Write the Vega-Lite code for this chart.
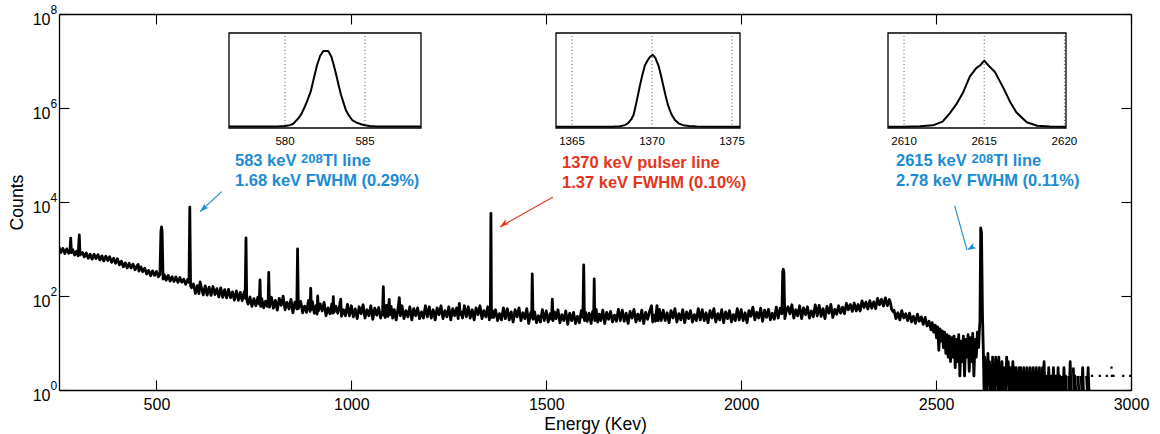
{
"$schema":"https://vega.github.io/schema/vega-lite/v6.json",
"width":1072,"height":376,
"autosize":{"type":"none"},
"padding":{"left":59,"top":14,"right":29,"bottom":44},
"background":"white",
"config":{"view":{"stroke":null},"font":"Liberation Sans",
 "axis":{"domainColor":"black","domainWidth":1.3,"tickColor":"black","tickWidth":1.1,"labelColor":"black","titleColor":"black","labelFont":"Liberation Sans","titleFont":"Liberation Sans","grid":false,"titleFontWeight":"normal"}},
"datasets":{
"spec":[
{"e":250,"c":1103},{"e":255,"c":845},{"e":260,"c":1025},{"e":265,"c":800},{"e":270,"c":1008},{"e":275,"c":814},{"e":278,"c":850},{"e":280,"c":1700},{"e":282,"c":840},{"e":285,"c":972},{"e":290,"c":744},{"e":295,"c":899},{"e":299,"c":720},{"e":302,"c":1990},{"e":304,"c":746},{"e":310,"c":846},{"e":315,"c":681},{"e":320,"c":825},{"e":325,"c":634},{"e":330,"c":774},{"e":335,"c":609},{"e":340,"c":773},{"e":345,"c":626},{"e":350,"c":759},{"e":355,"c":586},{"e":360,"c":714},{"e":365,"c":559},{"e":370,"c":706},{"e":375,"c":569},{"e":380,"c":684},{"e":385,"c":522},{"e":390,"c":634},{"e":395,"c":496},{"e":400,"c":622},{"e":405,"c":460},{"e":410,"c":551},{"e":415,"c":419},{"e":420,"c":507},{"e":425,"c":396},{"e":430,"c":498},{"e":435,"c":397},{"e":440,"c":475},{"e":445,"c":361},{"e":450,"c":436},{"e":453,"c":470},{"e":455,"c":339},{"e":460,"c":417},{"e":465,"c":329},{"e":470,"c":391},{"e":475,"c":294},{"e":480,"c":351},{"e":485,"c":271},{"e":490,"c":342},{"e":495,"c":275},{"e":500,"c":332},{"e":505,"c":255},{"e":509,"c":290},{"e":511.5,"c":2400},{"e":513,"c":2950},{"e":514.5,"c":2300},{"e":517,"c":230},{"e":520,"c":282},{"e":525,"c":217},{"e":530,"c":275},{"e":535,"c":208},{"e":540,"c":256},{"e":545,"c":203},{"e":550,"c":255},{"e":555,"c":195},{"e":560,"c":247},{"e":565,"c":197},{"e":570,"c":228},{"e":575,"c":177},{"e":580,"c":224},{"e":583.5,"c":195},{"e":585.5,"c":7800},{"e":587.5,"c":165},{"e":590,"c":150},
{"e":595,"c":181},{"e":600,"c":113},{"e":605,"c":166},{"e":609,"c":112},{"e":612,"c":200},{"e":615,"c":155},{"e":620,"c":105},{"e":625,"c":164},{"e":630,"c":104},{"e":635,"c":154},{"e":640,"c":103},{"e":645,"c":159},{"e":650,"c":107},{"e":655,"c":143},{"e":660,"c":96},{"e":665,"c":149},{"e":670,"c":93},{"e":675,"c":137},{"e":680,"c":91},{"e":685,"c":138},{"e":690,"c":92},{"e":695,"c":122},{"e":700,"c":82},{"e":705,"c":128},{"e":710,"c":81},{"e":715,"c":119},{"e":720,"c":80},{"e":725,"c":123},{"e":727.5,"c":90},{"e":729.7,"c":1714},{"e":731.5,"c":85},{"e":735,"c":67},{"e":740,"c":95},{"e":745,"c":60},{"e":750,"c":88},{"e":755,"c":62},{"e":760,"c":94},{"e":763.5,"c":67},{"e":765.6,"c":219},{"e":767.5,"c":60},{"e":770,"c":88},{"e":775,"c":56},{"e":780,"c":78},{"e":784,"c":60},{"e":786.5,"c":66},{"e":788,"c":319},{"e":790,"c":58},
{"e":795,"c":94},{"e":800,"c":55},{"e":805,"c":81},{"e":810,"c":50},{"e":815,"c":89},{"e":820,"c":63},{"e":825,"c":99},{"e":830,"c":51},{"e":835,"c":73},{"e":840,"c":53},{"e":845,"c":85},{"e":850,"c":44},{"e":855,"c":74},{"e":860,"c":53},{"e":862,"c":1000},{"e":864,"c":54},{"e":870,"c":77},{"e":875,"c":44},{"e":880,"c":61},{"e":885,"c":45},{"e":890,"c":81},{"e":894,"c":47},{"e":895.7,"c":146},{"e":897.5,"c":52},{"e":900,"c":76},{"e":905,"c":43},{"e":910,"c":63},{"e":912,"c":41},{"e":913.6,"c":100},{"e":915.5,"c":48},{"e":920,"c":68},{"e":925,"c":48},{"e":930,"c":73},{"e":935,"c":38},{"e":940,"c":56},{"e":945,"c":42},{"e":950,"c":68},{"e":952,"c":43},{"e":953.7,"c":97},{"e":955.5,"c":45},{"e":960,"c":61},{"e":965,"c":43},{"e":970,"c":64},{"e":972.7,"c":86},{"e":974.5,"c":37},{"e":980,"c":51},{"e":985,"c":38},{"e":990,"c":66},{"e":995,"c":38},
{"e":1000,"c":62},{"e":1005,"c":36},{"e":1010,"c":53},{"e":1015,"c":33},{"e":1020,"c":59},{"e":1025,"c":42},{"e":1030,"c":65},{"e":1035,"c":34},{"e":1040,"c":51},{"e":1045,"c":38},{"e":1050,"c":62},{"e":1055,"c":32},{"e":1060,"c":55},{"e":1065,"c":39},{"e":1070,"c":57},{"e":1075,"c":34},{"e":1080,"c":47},{"e":1082,"c":158},{"e":1084,"c":40},{"e":1087,"c":35},{"e":1090,"c":63},{"e":1094,"c":37},{"e":1097,"c":85},{"e":1099,"c":40},{"e":1102,"c":60},{"e":1106,"c":34},{"e":1110,"c":51},{"e":1115,"c":31},{"e":1120,"c":56},{"e":1123,"c":92},{"e":1125.5,"c":38},{"e":1130,"c":62},{"e":1135,"c":33},{"e":1140,"c":49},{"e":1145,"c":36},{"e":1150,"c":59},{"e":1155,"c":31},{"e":1160,"c":54},{"e":1165,"c":38},{"e":1170,"c":56},{"e":1175,"c":33},{"e":1180,"c":46},{"e":1185,"c":34},{"e":1190,"c":62},{"e":1195,"c":36},{"e":1200,"c":59},{"e":1205,"c":34},{"e":1210,"c":51},{"e":1215,"c":31},{"e":1220,"c":56},{"e":1225,"c":40},{"e":1230,"c":62},{"e":1235,"c":33},{"e":1240,"c":49},{"e":1245,"c":36},{"e":1250,"c":59},{"e":1255,"c":31},{"e":1260,"c":54},{"e":1265,"c":38},{"e":1270,"c":56},{"e":1274,"c":33},{"e":1277,"c":70},{"e":1279,"c":40},{"e":1282,"c":46},{"e":1285,"c":34},{"e":1290,"c":62},{"e":1295,"c":36},{"e":1300,"c":59},{"e":1305,"c":34},{"e":1310,"c":51},{"e":1315,"c":31},{"e":1320,"c":56},{"e":1325,"c":40},{"e":1330,"c":62},{"e":1335,"c":33},{"e":1340,"c":49},{"e":1345,"c":36},{"e":1350,"c":59},{"e":1354,"c":31},{"e":1356.5,"c":45},{"e":1358,"c":5750},{"e":1359.5,"c":35},{"e":1362,"c":49},{"e":1365,"c":35},{"e":1370,"c":51},{"e":1375,"c":30},{"e":1380,"c":42},{"e":1385,"c":31},{"e":1390,"c":56},{"e":1395,"c":33},{"e":1400,"c":54},{"e":1405,"c":31},{"e":1410,"c":46},{"e":1415,"c":28},{"e":1420,"c":51},{"e":1425,"c":36},{"e":1430,"c":56},{"e":1435,"c":30},{"e":1440,"c":44},{"e":1445,"c":33},{"e":1450,"c":54},{"e":1455,"c":26},{"e":1460,"c":44},{"e":1462.5,"c":35},{"e":1464,"c":294},{"e":1466,"c":32},{"e":1470,"c":46},{"e":1475,"c":27},{"e":1480,"c":38},{"e":1485,"c":28},{"e":1490,"c":51},{"e":1495,"c":30},{"e":1500,"c":48},{"e":1505,"c":28},{"e":1510,"c":42},{"e":1513.5,"c":32},{"e":1515.5,"c":86},{"e":1517.5,"c":30},{"e":1521,"c":46},{"e":1525,"c":33},{"e":1530,"c":51},{"e":1535,"c":27},{"e":1540,"c":40},{"e":1545,"c":30},{"e":1550,"c":48},{"e":1555,"c":25},{"e":1560,"c":43},{"e":1565,"c":30},{"e":1570,"c":45},{"e":1575,"c":26},{"e":1580,"c":37},{"e":1585,"c":27},{"e":1590,"c":49},{"e":1594,"c":35},{"e":1596,"c":457},{"e":1598,"c":30},{"e":1601,"c":45},{"e":1605,"c":29},{"e":1610,"c":43},{"e":1615,"c":26},{"e":1619,"c":47},{"e":1621.5,"c":34},{"e":1623,"c":230},{"e":1624.5,"c":30},{"e":1628,"c":52},{"e":1632,"c":28},{"e":1636,"c":41},{"e":1640,"c":30},{"e":1645,"c":50},{"e":1650,"c":26},{"e":1655,"c":45},{"e":1660,"c":32},{"e":1665,"c":47},{"e":1670,"c":28},{"e":1675,"c":39},{"e":1680,"c":29},{"e":1685,"c":52},{"e":1690,"c":30},{"e":1695,"c":50},{"e":1700,"c":29},{"e":1705,"c":43},{"e":1710,"c":26},{"e":1715,"c":47},{"e":1720,"c":34},{"e":1725,"c":52},{"e":1730,"c":28},{"e":1735,"c":41},{"e":1740,"c":30},{"e":1745,"c":50},{"e":1750,"c":26},{"e":1755,"c":45},{"e":1760,"c":32},{"e":1765,"c":47},{"e":1770,"c":62},{"e":1773,"c":28},{"e":1776,"c":39},{"e":1780,"c":29},{"e":1784,"c":62},{"e":1787,"c":30},{"e":1790,"c":52},{"e":1795,"c":30},{"e":1800,"c":50},{"e":1805,"c":30},{"e":1810,"c":44},{"e":1815,"c":27},{"e":1820,"c":49},{"e":1825,"c":34},{"e":1830,"c":54},{"e":1835,"c":28},{"e":1840,"c":42},{"e":1845,"c":31},{"e":1850,"c":51},{"e":1855,"c":27},{"e":1860,"c":46},{"e":1865,"c":33},{"e":1870,"c":49},{"e":1875,"c":28},{"e":1880,"c":40},{"e":1885,"c":30},{"e":1890,"c":54},{"e":1895,"c":31},{"e":1900,"c":51},{"e":1905,"c":30},{"e":1910,"c":44},{"e":1915,"c":27},{"e":1920,"c":49},{"e":1925,"c":34},{"e":1930,"c":54},{"e":1935,"c":28},{"e":1940,"c":42},{"e":1945,"c":31},{"e":1950,"c":51},{"e":1955,"c":27},{"e":1960,"c":46},{"e":1965,"c":33},{"e":1970,"c":49},{"e":1975,"c":28},{"e":1980,"c":40},{"e":1985,"c":30},{"e":1990,"c":54},{"e":1995,"c":31},{"e":2000,"c":51},{"e":2005,"c":30},{"e":2010,"c":44},{"e":2015,"c":27},{"e":2020,"c":49},{"e":2025,"c":37},{"e":2030,"c":58},{"e":2035,"c":31},{"e":2040,"c":45},{"e":2045,"c":34},{"e":2050,"c":55},{"e":2055,"c":29},{"e":2060,"c":50},{"e":2065,"c":35},{"e":2070,"c":52},{"e":2075,"c":31},{"e":2080,"c":43},{"e":2085,"c":32},{"e":2090,"c":58},{"e":2095,"c":34},{"e":2100,"c":55},{"e":2104.5,"c":42},{"e":2106.5,"c":330},{"e":2108,"c":370},{"e":2109.5,"c":330},{"e":2112,"c":33},{"e":2115,"c":45},{"e":2120,"c":59},{"e":2125,"c":42},{"e":2130,"c":65},{"e":2135,"c":34},{"e":2140,"c":51},{"e":2145,"c":38},{"e":2150,"c":62},{"e":2155,"c":33},{"e":2160,"c":56},{"e":2165,"c":40},{"e":2170,"c":59},{"e":2175,"c":34},{"e":2180,"c":48},{"e":2185,"c":36},{"e":2190,"c":65},{"e":2195,"c":38},{"e":2200,"c":63},{"e":2205,"c":37},{"e":2210,"c":54},{"e":2215,"c":33},{"e":2220,"c":60},{"e":2225,"c":43},{"e":2230,"c":66},{"e":2235,"c":35},{"e":2240,"c":52},
{"e":2245,"c":41},{"e":2250,"c":62},{"e":2255,"c":43},{"e":2260,"c":58},{"e":2265,"c":42},{"e":2270,"c":70},{"e":2275,"c":51},{"e":2280,"c":66},{"e":2285,"c":47},{"e":2290,"c":71},{"e":2295,"c":48},{"e":2300,"c":66},{"e":2305,"c":48},{"e":2310,"c":79},{"e":2315,"c":57},{"e":2320,"c":74},{"e":2325,"c":53},{"e":2330,"c":80},{"e":2335,"c":55},{"e":2340,"c":75},{"e":2345,"c":54},{"e":2350,"c":89},{"e":2355,"c":65},{"e":2360,"c":85},{"e":2365,"c":61},{"e":2370,"c":91},{"e":2375,"c":62},{"e":2380,"c":84},{"e":2383,"c":72},{"e":2386,"c":52},{"e":2389,"c":47},
{"e":2392,"c":50},{"e":2397,"c":33},{"e":2402,"c":44},{"e":2407,"c":31},{"e":2412,"c":49},{"e":2417,"c":34},{"e":2422,"c":42},{"e":2427,"c":30},{"e":2432,"c":43},{"e":2437,"c":28},{"e":2442,"c":37},{"e":2447,"c":26},{"e":2452,"c":41},{"e":2457,"c":29},{"e":2462,"c":36},{"e":2467,"c":25},{"e":2472,"c":35},{"e":2477,"c":23},{"e":2482,"c":29},{"e":2487,"c":19},
{"e":2490,"c":27},{"e":2494,"c":17},{"e":2498,"c":24},{"e":2501,"c":13},{"e":2504,"c":22},{"e":2507,"c":7},{"e":2510,"c":20},{"e":2513,"c":11},{"e":2516,"c":18},{"e":2519,"c":8},{"e":2522,"c":17},{"e":2525,"c":6},{"e":2528,"c":15},{"e":2531,"c":5},{"e":2534,"c":14},{"e":2537,"c":4},{"e":2540,"c":13},{"e":2543,"c":5},{"e":2546,"c":14},{"e":2549,"c":3},{"e":2552,"c":12},{"e":2555,"c":4},{"e":2558,"c":15},{"e":2561,"c":2},{"e":2564,"c":11},{"e":2567,"c":4},{"e":2570,"c":14},{"e":2573,"c":2},{"e":2576,"c":12},{"e":2579,"c":5},{"e":2582,"c":15},{"e":2585,"c":2.5},{"e":2588,"c":13},{"e":2591,"c":4},{"e":2594,"c":16},{"e":2597,"c":2},{"e":2600,"c":12},{"e":2603,"c":5},{"e":2606,"c":17},{"e":2609,"c":8},{"e":2611,"c":18},{"e":2612.5,"c":30},{"e":2614.5,"c":2800},{"e":2616.5,"c":2200},{"e":2619,"c":40},{"e":2621,"c":8},
{"e":2623,"c":1},{"e":2625,"c":5},{"e":2627,"c":1},{"e":2629,"c":4},{"e":2631,"c":1},{"e":2633,"c":6},{"e":2635,"c":2},{"e":2637,"c":4},{"e":2639,"c":1},{"e":2641,"c":3},{"e":2643,"c":1},{"e":2645,"c":5},{"e":2647,"c":1},{"e":2649,"c":3},{"e":2651,"c":1},{"e":2653,"c":5},{"e":2655,"c":2},{"e":2657,"c":4},{"e":2659,"c":1},{"e":2661,"c":5},{"e":2663,"c":1},{"e":2665,"c":3},{"e":2667,"c":1},{"e":2669,"c":4},{"e":2671,"c":1},{"e":2673,"c":3},{"e":2675,"c":1},{"e":2677,"c":3},{"e":2679,"c":1},{"e":2681,"c":5},{"e":2683,"c":2},{"e":2685,"c":4},{"e":2687,"c":1},{"e":2689,"c":3},{"e":2691,"c":1},{"e":2693,"c":3},{"e":2695,"c":1},{"e":2697,"c":4},{"e":2699,"c":1},{"e":2701,"c":3},{"e":2703,"c":1},{"e":2705,"c":3},{"e":2707,"c":1},{"e":2709,"c":2},{"e":2711,"c":1},{"e":2713,"c":3},{"e":2715,"c":1},{"e":2717,"c":3},{"e":2719,"c":1},{"e":2721,"c":2},{"e":2723,"c":1},{"e":2725,"c":3},{"e":2727,"c":1},{"e":2729,"c":2},{"e":2731,"c":1},{"e":2733,"c":3},{"e":2735,"c":1},{"e":2737,"c":2},{"e":2739,"c":1},{"e":2741,"c":3},{"e":2743,"c":1},{"e":2745,"c":2},{"e":2747,"c":1},{"e":2749,"c":3},{"e":2751,"c":1},{"e":2753,"c":2},{"e":2755,"c":1},{"e":2757,"c":3},{"e":2759,"c":1},{"e":2761,"c":2},{"e":2763,"c":1},{"e":2765,"c":3},{"e":2767,"c":1},{"e":2769,"c":2},{"e":2771,"c":1},{"e":2773,"c":3},{"e":2775,"c":1},{"e":2777,"c":4},{"e":2779,"c":1},{"e":2781,"c":2},{"e":2783,"c":1},{"e":2785,"c":2},{"e":2787,"c":1},{"e":2789,"c":3},{"e":2791,"c":1},{"e":2793,"c":2},{"e":2795,"c":1},{"e":2797,"c":2},{"e":2799,"c":1},{"e":2801,"c":3},{"e":2803,"c":1},{"e":2805,"c":2},{"e":2807,"c":1},{"e":2809,"c":2},{"e":2811,"c":1},{"e":2813,"c":3},{"e":2815,"c":1},{"e":2817,"c":2},{"e":2819,"c":1},
{"e":2821,"c":null},{"e":2824,"c":2},{"e":2826,"c":1},{"e":2828,"c":3},{"e":2830,"c":1},{"e":2832,"c":2},{"e":2834,"c":1},{"e":2836,"c":null},{"e":2840,"c":2},{"e":2842,"c":1},{"e":2844,"c":4},{"e":2846,"c":1},{"e":2848,"c":null},{"e":2852,"c":3},{"e":2854,"c":1},{"e":2856,"c":2},{"e":2858,"c":1},{"e":2860,"c":null},{"e":2864,"c":2},{"e":2866,"c":1},{"e":2868,"c":null},{"e":2872,"c":2},{"e":2874,"c":1},{"e":2876,"c":3},{"e":2878,"c":1},{"e":2880,"c":null},{"e":2886,"c":2},{"e":2888,"c":1},{"e":2890,"c":3},{"e":2892,"c":1},{"e":2894,"c":null}
],
"dots":[{"e":2900,"c":2},{"e":2920,"c":2},{"e":2938,"c":2},{"e":2950,"c":3},{"e":2951,"c":2},{"e":2955,"c":2},{"e":2980,"c":2},{"e":2998,"c":2}],
"arrows":[{"x1":667.4,"y1":16560,"x2":611.7,"y2":6220,"g":"b"},{"x1":1517.3,"y1":12770,"x2":1381.3,"y2":2940,"g":"r"},{"x1":2547.5,"y1":8340,"x2":2579.3,"y2":952,"g":"b"}],
"heads":[{"e":611.7,"c":6220,"a":"h1","g":"b"},{"e":1381.3,"c":2940,"a":"h2","g":"r"},{"e":2579.3,"c":952,"a":"h3","g":"b"}],
"notes":[{"e":701.5,"c":58300,"t":"583 keV","g":"b"},{"e":927.2,"c":58300,"t":"Tl line","g":"b"},{"e":701.5,"c":22440,"t":"1.68 keV FWHM (0.29%)","g":"b"},{"e":1540.4,"c":52900,"t":"1370 keV pulser line","g":"r"},{"e":1540.4,"c":19860,"t":"1.37 keV FWHM (0.10%)","g":"r"},{"e":2397.2,"c":58300,"t":"2615 keV","g":"b"},{"e":2647.3,"c":58300,"t":"Tl line","g":"b"},{"e":2397.2,"c":22440,"t":"2.78 keV FWHM (0.11%)","g":"b"}],
"sups":[{"e":870.8,"c":67550,"t":"208","g":"b"},{"e":2590.8,"c":67550,"t":"208","g":"b"}],
"ysup":[{"v":1,"s":"0"},{"v":100,"s":"2"},{"v":10000,"s":"4"},{"v":1000000,"s":"6"},{"v":100000000,"s":"8"}],
"i583":[{"e":576.5,"c":1.5},{"e":578,"c":1.5},{"e":579.5,"c":1.6},{"e":580,"c":2},{"e":580.3,"c":3},{"e":580.5,"c":4.2},{"e":580.8,"c":9.5},{"e":581,"c":14},{"e":581.2,"c":21},{"e":581.4,"c":29},{"e":581.6,"c":38},{"e":581.8,"c":52},{"e":582,"c":66},{"e":582.2,"c":76},{"e":582.4,"c":81},{"e":582.7,"c":81},{"e":582.9,"c":75},{"e":583.05,"c":66},{"e":583.2,"c":56},{"e":583.35,"c":45},{"e":583.5,"c":35},{"e":583.65,"c":27},{"e":583.8,"c":19},{"e":584,"c":13},{"e":584.2,"c":8.4},{"e":584.5,"c":5.5},{"e":584.75,"c":3.9},{"e":585,"c":2.8},{"e":585.3,"c":2},{"e":585.7,"c":1.6},{"e":586.5,"c":1.5},{"e":588.5,"c":1.5}],
"i1370":[{"e":1364,"c":1.3},{"e":1366,"c":1.3},{"e":1367.5,"c":1.4},{"e":1368,"c":1.8},{"e":1368.3,"c":3},{"e":1368.5,"c":5},{"e":1368.7,"c":9},{"e":1368.85,"c":14},{"e":1369.04,"c":28},{"e":1369.25,"c":45},{"e":1369.4,"c":56},{"e":1369.56,"c":66},{"e":1369.72,"c":71},{"e":1369.88,"c":75},{"e":1370.05,"c":77},{"e":1370.2,"c":74},{"e":1370.4,"c":66},{"e":1370.55,"c":56},{"e":1370.7,"c":45},{"e":1370.85,"c":34},{"e":1371,"c":24},{"e":1371.2,"c":15},{"e":1371.43,"c":8.4},{"e":1371.7,"c":4.5},{"e":1371.95,"c":3},{"e":1372.3,"c":2},{"e":1372.8,"c":1.5},{"e":1374,"c":1.4},{"e":1375.5,"c":1.4}],
"i2615":[{"e":2609,"c":1.3},{"e":2610,"c":1.4},{"e":2611,"c":1.8},{"e":2611.8,"c":2.8},{"e":2612.4,"c":6.7},{"e":2612.85,"c":15.4},{"e":2613.3,"c":26},{"e":2613.7,"c":38},{"e":2614.1,"c":54},{"e":2614.5,"c":63},{"e":2614.75,"c":66},{"e":2615,"c":71},{"e":2615.25,"c":66},{"e":2615.67,"c":59},{"e":2616.2,"c":42},{"e":2616.6,"c":28},{"e":2617,"c":16.5},{"e":2617.65,"c":6},{"e":2618.3,"c":2.4},{"e":2619.1,"c":1.6},{"e":2620.1,"c":1.4}]
},
"layer":[
 {"layer":[
   {"layer":[
     {"data":{"name":"spec"},"mark":{"type":"line","color":"black","strokeWidth":2.8,"strokeJoin":"round","clip":true},
      "encoding":{
       "x":{"field":"e","type":"quantitative","scale":{"domain":[250,3000],"nice":false,"zero":false},
            "axis":{"orient":"bottom","values":[500,1000,1500,2000,2500,3000],"format":"d","tickSize":-10,"labelPadding":16.5,"labelFontSize":16,"labelFlush":false,"labelOverlap":false,"title":"Energy (Kev)","titleFontSize":17.6,"titleY":39,"titleBaseline":"alphabetic"}},
       "y":{"field":"c","type":"quantitative","scale":{"type":"log","domain":[1,100000000],"nice":false},
            "axis":{"orient":"left","values":[1,100,10000,1000000,100000000],"labelExpr":"'10'","tickSize":-10,"labelPadding":19,"labelOffset":5,"labelFontSize":16,"labelFlush":false,"labelOverlap":false,"title":"Counts","titleFontSize":17.6,"titlePadding":6}}}},
     {"data":{"name":"arrows"},"mark":{"type":"rule","strokeWidth":1.1},
      "encoding":{"x":{"field":"x1","type":"quantitative","scale":{"domain":[250,3000],"nice":false,"zero":false}},
       "y":{"field":"y1","type":"quantitative","scale":{"type":"log","domain":[1,100000000],"nice":false}},
       "x2":{"field":"x2"},"y2":{"field":"y2"},
       "color":{"field":"g","type":"nominal","scale":{"domain":["b","r"],"range":["#1b8bd3","#e5351c"]},"legend":null}}},
     {"data":{"name":"heads"},"mark":{"type":"point","shape":"M0,0L-1,3L0,2.3L1,3Z","filled":true,"size":36,"opacity":1,"strokeWidth":0},
      "encoding":{"x":{"field":"e","type":"quantitative","scale":{"domain":[250,3000],"nice":false,"zero":false}},
       "y":{"field":"c","type":"quantitative","scale":{"type":"log","domain":[1,100000000],"nice":false}},
       "color":{"field":"g","type":"nominal","scale":{"domain":["b","r"],"range":["#1b8bd3","#e5351c"]},"legend":null},
       "angle":{"field":"a","type":"nominal","scale":{"domain":["h1","h2","h3"],"range":[227.3,240.5,164.4]},"legend":null}}},
     {"data":{"name":"notes"},"mark":{"type":"text","align":"left","baseline":"alphabetic","fontSize":16.5,"fontWeight":"bold"},
      "encoding":{"x":{"field":"e","type":"quantitative","scale":{"domain":[250,3000],"nice":false,"zero":false}},
       "y":{"field":"c","type":"quantitative","scale":{"type":"log","domain":[1,100000000],"nice":false}},
       "text":{"field":"t"},
       "color":{"field":"g","type":"nominal","scale":{"domain":["b","r"],"range":["#1b8bd3","#e5351c"]},"legend":null}}},
     {"data":{"name":"sups"},"mark":{"type":"text","align":"left","baseline":"alphabetic","fontSize":13,"fontWeight":"bold"},
      "encoding":{"x":{"field":"e","type":"quantitative","scale":{"domain":[250,3000],"nice":false,"zero":false}},
       "y":{"field":"c","type":"quantitative","scale":{"type":"log","domain":[1,100000000],"nice":false}},
       "text":{"field":"t"},
       "color":{"field":"g","type":"nominal","scale":{"domain":["b","r"],"range":["#1b8bd3","#e5351c"]},"legend":null}}},
     {"data":{"name":"ysup"},"mark":{"type":"text","align":"left","baseline":"middle","fontSize":12,"dx":-8.5,"dy":-3.7,"color":"black"},
      "encoding":{"x":{"datum":250,"type":"quantitative","scale":{"domain":[250,3000],"nice":false,"zero":false}},
       "y":{"field":"v","type":"quantitative","scale":{"type":"log","domain":[1,100000000],"nice":false}},
       "text":{"field":"s"}}}
   ]},
   {"data":{"name":"dots"},"mark":{"type":"square","size":5,"color":"black","filled":true,"opacity":1},
    "encoding":{"x":{"field":"e","type":"quantitative","scale":{"domain":[250,3000],"nice":false,"zero":false},
       "axis":{"orient":"top","values":[500,1000,1500,2000,2500,3000],"labels":false,"tickSize":-10,"title":null}},
     "y":{"field":"c","type":"quantitative","scale":{"type":"log","domain":[1,100000000],"nice":false},
       "axis":{"orient":"right","values":[1,100,10000,1000000,100000000],"labels":false,"tickSize":-10,"title":null}}}}
  ],
  "resolve":{"axis":{"x":"independent","y":"independent"}}},
 {"layer":[
   {"data":{"values":[{}]},"mark":{"type":"rect","fill":"white","stroke":"black","strokeWidth":1.3},
    "encoding":{"x":{"datum":576.5,"type":"quantitative","scale":{"domain":[576.5,588.5],"range":[170,362],"nice":false,"zero":false},"axis":null},"x2":{"datum":588.5},
     "y":{"datum":0,"type":"quantitative","scale":{"domain":[0,100],"range":[114,19],"nice":false,"zero":false},"axis":null},"y2":{"datum":100}}},
   {"data":{"values":[{"t":580},{"t":585}]},"mark":{"type":"rule","color":"#444444","strokeWidth":0.9,"strokeDash":[1,2.5]},
    "encoding":{"x":{"field":"t","type":"quantitative","scale":{"domain":[576.5,588.5],"range":[170,362],"nice":false,"zero":false},"axis":null},
     "y":{"datum":0,"type":"quantitative","scale":{"domain":[0,100],"range":[114,19],"nice":false,"zero":false},"axis":null},"y2":{"datum":100}}},
   {"data":{"values":[{"t":580},{"t":585}]},"mark":{"type":"text","fontSize":11.5,"baseline":"alphabetic","dy":17,"color":"black"},
    "encoding":{"x":{"field":"t","type":"quantitative","scale":{"domain":[576.5,588.5],"range":[170,362],"nice":false,"zero":false},"axis":null},
     "y":{"datum":0,"type":"quantitative","scale":{"domain":[0,100],"range":[114,19],"nice":false,"zero":false},"axis":null},
     "text":{"field":"t","type":"quantitative","format":"d"}}},
   {"data":{"name":"i583"},"mark":{"type":"line","color":"black","strokeWidth":2,"strokeJoin":"round"},
    "encoding":{"x":{"field":"e","type":"quantitative","scale":{"domain":[576.5,588.5],"range":[170,362],"nice":false,"zero":false},"axis":null},
     "y":{"field":"c","type":"quantitative","scale":{"domain":[0,100],"range":[114,19],"nice":false,"zero":false},"axis":null}}}
 ]},
 {"layer":[
   {"data":{"values":[{}]},"mark":{"type":"rect","fill":"white","stroke":"black","strokeWidth":1.3},
    "encoding":{"x":{"datum":1364,"type":"quantitative","scale":{"domain":[1364,1375.5],"range":[497,681],"nice":false,"zero":false},"axis":null},"x2":{"datum":1375.5},
     "y":{"datum":0,"type":"quantitative","scale":{"domain":[0,100],"range":[114,19],"nice":false,"zero":false},"axis":null},"y2":{"datum":100}}},
   {"data":{"values":[{"t":1365},{"t":1370},{"t":1375}]},"mark":{"type":"rule","color":"#444444","strokeWidth":0.9,"strokeDash":[1,2.5]},
    "encoding":{"x":{"field":"t","type":"quantitative","scale":{"domain":[1364,1375.5],"range":[497,681],"nice":false,"zero":false},"axis":null},
     "y":{"datum":0,"type":"quantitative","scale":{"domain":[0,100],"range":[114,19],"nice":false,"zero":false},"axis":null},"y2":{"datum":100}}},
   {"data":{"values":[{"t":1365},{"t":1370},{"t":1375}]},"mark":{"type":"text","fontSize":11.5,"baseline":"alphabetic","dy":17,"color":"black"},
    "encoding":{"x":{"field":"t","type":"quantitative","scale":{"domain":[1364,1375.5],"range":[497,681],"nice":false,"zero":false},"axis":null},
     "y":{"datum":0,"type":"quantitative","scale":{"domain":[0,100],"range":[114,19],"nice":false,"zero":false},"axis":null},
     "text":{"field":"t","type":"quantitative","format":"d"}}},
   {"data":{"name":"i1370"},"mark":{"type":"line","color":"black","strokeWidth":2,"strokeJoin":"round"},
    "encoding":{"x":{"field":"e","type":"quantitative","scale":{"domain":[1364,1375.5],"range":[497,681],"nice":false,"zero":false},"axis":null},
     "y":{"field":"c","type":"quantitative","scale":{"domain":[0,100],"range":[114,19],"nice":false,"zero":false},"axis":null}}}
 ]},
 {"layer":[
   {"data":{"values":[{}]},"mark":{"type":"rect","fill":"white","stroke":"black","strokeWidth":1.3},
    "encoding":{"x":{"datum":2609,"type":"quantitative","scale":{"domain":[2609,2620.1],"range":[829,1007],"nice":false,"zero":false},"axis":null},"x2":{"datum":2620.1},
     "y":{"datum":0,"type":"quantitative","scale":{"domain":[0,100],"range":[114,19],"nice":false,"zero":false},"axis":null},"y2":{"datum":100}}},
   {"data":{"values":[{"t":2610},{"t":2615},{"t":2620}]},"mark":{"type":"rule","color":"#444444","strokeWidth":0.9,"strokeDash":[1,2.5]},
    "encoding":{"x":{"field":"t","type":"quantitative","scale":{"domain":[2609,2620.1],"range":[829,1007],"nice":false,"zero":false},"axis":null},
     "y":{"datum":0,"type":"quantitative","scale":{"domain":[0,100],"range":[114,19],"nice":false,"zero":false},"axis":null},"y2":{"datum":100}}},
   {"data":{"values":[{"t":2610},{"t":2615},{"t":2620}]},"mark":{"type":"text","fontSize":11.5,"baseline":"alphabetic","dy":17,"color":"black"},
    "encoding":{"x":{"field":"t","type":"quantitative","scale":{"domain":[2609,2620.1],"range":[829,1007],"nice":false,"zero":false},"axis":null},
     "y":{"datum":0,"type":"quantitative","scale":{"domain":[0,100],"range":[114,19],"nice":false,"zero":false},"axis":null},
     "text":{"field":"t","type":"quantitative","format":"d"}}},
   {"data":{"name":"i2615"},"mark":{"type":"line","color":"black","strokeWidth":2,"strokeJoin":"round"},
    "encoding":{"x":{"field":"e","type":"quantitative","scale":{"domain":[2609,2620.1],"range":[829,1007],"nice":false,"zero":false},"axis":null},
     "y":{"field":"c","type":"quantitative","scale":{"domain":[0,100],"range":[114,19],"nice":false,"zero":false},"axis":null}}}
 ]}
],
"resolve":{"scale":{"x":"independent","y":"independent"}}
}
